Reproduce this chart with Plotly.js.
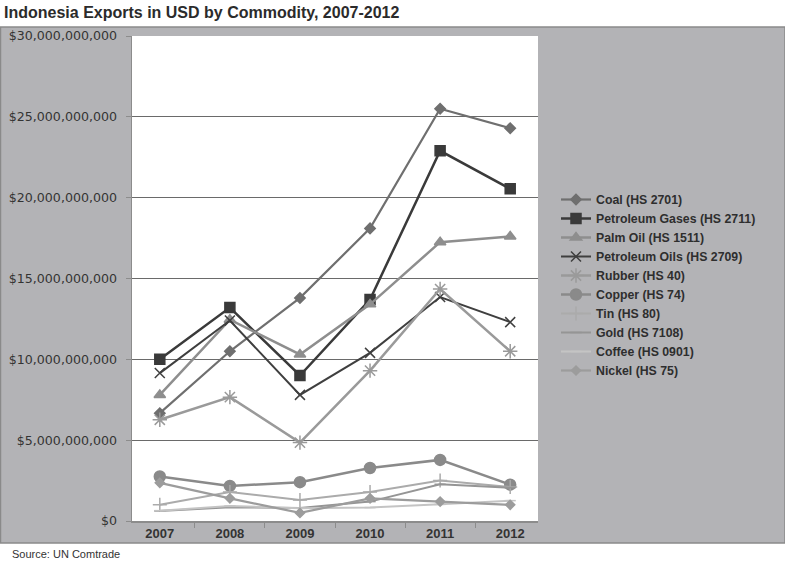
<!DOCTYPE html>
<html>
<head>
<meta charset="utf-8">
<script src="https://cdn.plot.ly/plotly-3.0.1.min.js"></script>
<style>html,body{margin:0;padding:0;background:#fff;}#chart{width:785px;height:562px;}</style>
</head>
<body>
<div id="chart"></div>
<script>
const years = ['2007', '2008', '2009', '2010', '2011', '2012'];

const coal = [6.67e9, 10.5e9, 13.8e9, 18.1e9, 25.5e9, 24.3e9];
const petroleumGases = [10.0e9, 13.2e9, 9.0e9, 13.7e9, 22.9e9, 20.55e9];
const palmOil = [7.8e9, 12.45e9, 10.3e9, 13.4e9, 17.25e9, 17.6e9];
const petroleumOils = [9.15e9, 12.4e9, 7.8e9, 10.4e9, 13.85e9, 12.3e9];
const rubber = [6.26e9, 7.66e9, 4.85e9, 9.3e9, 14.35e9, 10.5e9];
const copper = [2.75e9, 2.17e9, 2.4e9, 3.28e9, 3.78e9, 2.25e9];
const tin = [1.0e9, 1.8e9, 1.3e9, 1.8e9, 2.5e9, 2.1e9];
const gold = [0.62e9, 0.85e9, 0.8e9, 1.2e9, 2.27e9, 2.06e9];
const coffee = [0.64e9, 0.93e9, 0.79e9, 0.83e9, 1.03e9, 1.26e9];
const nickel = [2.36e9, 1.4e9, 0.5e9, 1.4e9, 1.2e9, 1.0e9];

const seriesNames = ['Coal (HS 2701)', 'Petroleum Gases (HS 2711)', 'Palm Oil (HS 1511)',
  'Petroleum Oils (HS 2709)', 'Rubber (HS 40)', 'Copper (HS 74)', 'Tin (HS 80)',
  'Gold (HS 7108)', 'Coffee (HS 0901)', 'Nickel (HS 75)'];
const seriesValues = [coal, petroleumGases, palmOil, petroleumOils, rubber, copper, tin, gold, coffee, nickel];

const styles = [
  {color: '#6f6f6f', width: 2.2, symbol: 'diamond', size: 8},
  {color: '#3a3a3a', width: 2.5, symbol: 'square', size: 10},
  {color: '#8e8e8e', width: 2.5, symbol: 'triangle-up', size: 10},
  {color: '#3f3f3f', width: 2, symbol: 'x-thin-open', size: 10},
  {color: '#9a9a9a', width: 2.5, symbol: 'asterisk-open', size: 12},
  {color: '#8a8a8a', width: 2.5, symbol: 'circle', size: 11},
  {color: '#ababab', width: 2, symbol: 'cross-thin-open', size: 10},
  {color: '#959595', width: 2, symbol: 'line-ew-open', size: 8},
  {color: '#c4c4c4', width: 2, symbol: 'line-ew-open', size: 8},
  {color: '#9c9c9c', width: 2.2, symbol: 'diamond', size: 7}
];

const traces = seriesNames.map((name, i) => ({
  type: 'scatter',
  mode: 'lines+markers',
  name: name,
  x: years,
  y: seriesValues[i],
  line: {color: styles[i].color, width: styles[i].width},
  marker: {symbol: styles[i].symbol, size: styles[i].size, color: styles[i].color,
           line: {color: styles[i].color, width: 1.5}}
}));

const L = 132, R = 538, T = 36, B = 521;
const pw = R - L, ph = B - T;
const px = v => (v - L) / pw;
const py = v => (B - v) / ph;

const layout = {
  width: 785, height: 562,
  margin: {l: L, r: 785 - R, t: T, b: 562 - B, pad: 0},
  paper_bgcolor: '#ffffff',
  plot_bgcolor: '#ffffff',
  font: {family: 'Liberation Sans, Arial, sans-serif', color: '#333333'},
  title: {
    text: '<b>Indonesia Exports in USD by Commodity, 2007-2012</b>',
    font: {family: 'Liberation Sans, Arial, sans-serif', size: 16, color: '#2b2b2b'},
    xref: 'container', x: 4 / 785, xanchor: 'left',
    yref: 'container', y: 1 - 12 / 562, yanchor: 'middle'
  },
  xaxis: {
    type: 'category',
    showgrid: false,
    showline: true, linecolor: '#8c8c8c', linewidth: 1.5,
    ticks: 'outside', ticklen: 5, tickcolor: '#8c8c8c', tickwidth: 1,
    tickson: 'boundaries',
    tickfont: {family: 'Liberation Sans, Arial, sans-serif', size: 13, color: '#333333', weight: 'bold'},
    zeroline: false, fixedrange: true
  },
  yaxis: {
    range: [0, 30e9],
    dtick: 5e9, tick0: 0,
    tickformat: '$,.0f',
    showgrid: true, gridcolor: '#6a6a6a', gridwidth: 1,
    showline: true, linecolor: '#8c8c8c', linewidth: 1.5,
    ticks: 'outside', ticklen: 5, tickcolor: '#8c8c8c',
    ticklabelstandoff: 6,
    tickfont: {family: 'DejaVu Sans, sans-serif', size: 12.6, color: '#333333'},
    zeroline: false, fixedrange: true
  },
  legend: {
    x: px(556), xanchor: 'left',
    y: py(285), yanchor: 'middle',
    bgcolor: 'rgba(0,0,0,0)',
    font: {family: 'Liberation Sans, Arial, sans-serif', size: 12.3, color: '#2e2e2e', weight: 'bold'},
    tracegroupgap: 0
  },
  shapes: [
    {type: 'rect', xref: 'paper', yref: 'paper', layer: 'below',
     x0: px(0.5), x1: px(785), y0: py(543), y1: py(27),
     fillcolor: '#b3b3b6', line: {color: '#8a8a8a', width: 1.5}},
    {type: 'rect', xref: 'paper', yref: 'paper', layer: 'below',
     x0: 0, x1: 1, y0: 0, y1: 1,
     fillcolor: '#ffffff', line: {width: 0}}
  ],
  annotations: [
    {text: 'Source: UN Comtrade', xref: 'paper', yref: 'paper',
     x: px(10), xanchor: 'left', y: py(554), yanchor: 'middle', showarrow: false,
     font: {family: 'Liberation Sans, Arial, sans-serif', size: 11, color: '#333333'}}
  ],
  showlegend: true
};

Plotly.newPlot('chart', traces, layout, {displayModeBar: false, staticPlot: true});
</script>
</body>
</html>
